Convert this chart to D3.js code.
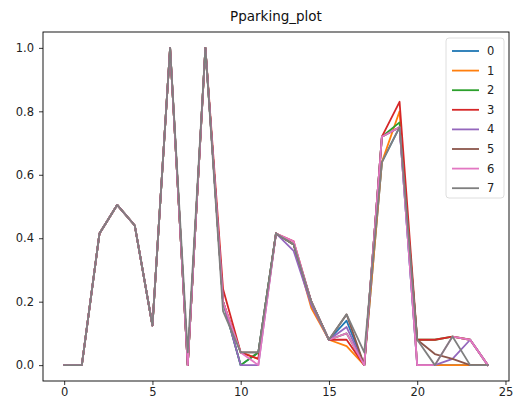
<!DOCTYPE html>
<html>
<head>
<meta charset="utf-8">
<script src="https://cdn.jsdelivr.net/npm/d3@7"></script>
<style>
  body { margin: 0; background: #fff; }
  svg { display: block; font-family: "DejaVu Sans", sans-serif; }
</style>
</head>
<body>
<div id="chart"></div>
<script>
// hours on the x axis
const hours = d3.range(0, 25)
const seriesNames = ['0', '1', '2', '3', '4', '5', '6', '7']
const colors = ['#1f77b4', '#ff7f0e', '#2ca02c', '#d62728', '#9467bd', '#8c564b', '#e377c2', '#7f7f7f']
const xTicks = [0, 5, 10, 15, 20, 25]
const yTicks = [0.0, 0.2, 0.4, 0.6, 0.8, 1.0]

// values, one row per series (x = 0..24)
const s0 = [0, 0, 0.415, 0.505, 0.44, 0.125, 1.0, 0, 1.0, 0.2, 0, 0.04, 0.415, 0.38, 0.2, 0.08, 0.14, 0, 0.64, 0.75, 0, 0, 0, 0, 0]
const s1 = [0, 0, 0.415, 0.505, 0.44, 0.125, 1.0, 0, 1.0, 0.2, 0.04, 0.02, 0.415, 0.38, 0.18, 0.08, 0.06, 0, 0.64, 0.80, 0, 0, 0, 0, 0]
const s2 = [0, 0, 0.415, 0.505, 0.44, 0.125, 1.0, 0, 1.0, 0.2, 0, 0.04, 0.415, 0.38, 0.2, 0.08, 0.1, 0, 0.72, 0.765, 0.08, 0.08, 0.09, 0.08, 0]
const s3 = [0, 0, 0.415, 0.505, 0.44, 0.125, 1.0, 0, 1.0, 0.24, 0.04, 0.02, 0.415, 0.39, 0.2, 0.08, 0.08, 0, 0.72, 0.83, 0.08, 0.08, 0.09, 0.08, 0]
const s4 = [0, 0, 0.415, 0.505, 0.44, 0.125, 1.0, 0, 1.0, 0.2, 0, 0, 0.415, 0.36, 0.19, 0.08, 0.12, 0, 0.72, 0.75, 0, 0, 0.02, 0.08, 0]
const s5 = [0, 0, 0.415, 0.505, 0.44, 0.125, 1.0, 0, 1.0, 0.2, 0.04, 0.04, 0.415, 0.38, 0.2, 0.08, 0.16, 0, 0.72, 0.75, 0.08, 0.035, 0.02, 0, 0]
const s6 = [0, 0, 0.415, 0.505, 0.44, 0.125, 1.0, 0, 1.0, 0.2, 0.04, 0, 0.415, 0.39, 0.2, 0.08, 0.1, 0, 0.72, 0.75, 0, 0, 0.09, 0.08, 0]
const s7 = [0, 0, 0.415, 0.505, 0.44, 0.125, 1.0, 0.04, 1.0, 0.17, 0.04, 0.04, 0.415, 0.38, 0.2, 0.08, 0.16, 0.04, 0.64, 0.75, 0.08, 0, 0.09, 0, 0]
const seriesValues = [s0, s1, s2, s3, s4, s5, s6, s7]

const width = 514
const height = 403
const margin = { top: 32, right: 5, bottom: 22, left: 43 }
const plotW = width - margin.left - margin.right
const plotH = height - margin.top - margin.bottom

const svg = d3.select('#chart').append('svg')
    .attr('width', width)
    .attr('height', height)

// matplotlib style 5% margins
const x = d3.scaleLinear().domain([-1.2, 25.2]).range([0, plotW])
const y = d3.scaleLinear().domain([-0.05, 1.05]).range([plotH, 0])

const g = svg.append('g').attr('transform', `translate(${margin.left},${margin.top})`)

const line = d3.line()
    .x((d, i) => x(hours[i]))
    .y(d => y(d))

seriesValues.forEach((vals, k) => {
    g.append('path')
        .datum(vals)
        .attr('d', line)
        .attr('fill', 'none')
        .attr('stroke', colors[k])
        .attr('stroke-width', 1.8)
        .attr('stroke-linejoin', 'round')
        .attr('stroke-linecap', 'square')
})

// axes
const xAxis = g.append('g')
    .attr('transform', `translate(0,${plotH})`)
    .call(d3.axisBottom(x).tickValues(xTicks).tickFormat(d3.format('d')).tickSize(4).tickPadding(3))
const yAxis = g.append('g')
    .call(d3.axisLeft(y).tickValues(yTicks).tickFormat(d3.format('.1f')).tickSize(4).tickPadding(5))

;[xAxis, yAxis].forEach(a => {
    a.select('.domain').remove()
    a.selectAll('text').attr('font-size', 11.5).attr('fill', '#222').attr('font-family', '"DejaVu Sans", sans-serif')
    a.selectAll('line').attr('stroke', '#000').attr('stroke-width', 0.8)
})

// frame
g.append('rect')
    .attr('width', plotW)
    .attr('height', plotH)
    .attr('fill', 'none')
    .attr('stroke', '#000')
    .attr('stroke-width', 0.9)

// title
svg.append('text')
    .attr('x', margin.left + plotW / 2)
    .attr('y', 21)
    .attr('text-anchor', 'middle')
    .attr('font-size', 13.5)
    .attr('fill', '#111')
    .text('Pparking_plot')

// legend
const legend = svg.append('g').attr('transform', 'translate(446,38)')
legend.append('rect')
    .attr('width', 58)
    .attr('height', 160)
    .attr('rx', 3)
    .attr('fill', '#fff')
    .attr('fill-opacity', 0.8)
    .attr('stroke', '#d6d6d6')
    .attr('stroke-width', 0.8)

seriesNames.forEach((name, k) => {
    const row = legend.append('g').attr('transform', `translate(0,${13 + k * 19.6})`)
    row.append('line')
        .attr('x1', 6).attr('x2', 33)
        .attr('y1', 0).attr('y2', 0)
        .attr('stroke', colors[k])
        .attr('stroke-width', 1.8)
    row.append('text')
        .attr('x', 41)
        .attr('y', 4)
        .attr('font-size', 11.5)
        .attr('fill', '#222')
        .text(name)
})
</script>
</body>
</html>
